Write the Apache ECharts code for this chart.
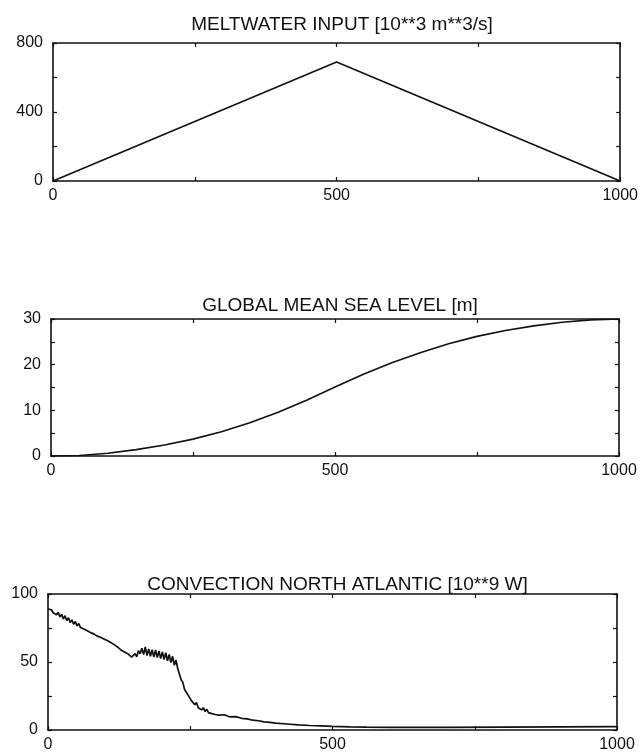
<!DOCTYPE html>
<html>
<head>
<meta charset="utf-8">
<title>Meltwater experiment</title>
<script src="https://cdn.jsdelivr.net/npm/echarts@6/dist/echarts.min.js"></script>
<style>
  html, body { margin: 0; padding: 0; background: #fff; }
  #main { width: 641px; height: 753px; }
</style>
</head>
<body>
<div id="main"></div>
<script>
// panel titles
var titles = [
    'MELTWATER INPUT [10**3 m**3/s]',
    'GLOBAL MEAN SEA LEVEL [m]',
    'CONVECTION NORTH ATLANTIC [10**9 W]'
];

// meltwater input (triangle)
var meltYears = [0, 500, 1000];
var meltValues = [0, 690, 0];

// global mean sea level
var seaYears = [0, 50, 100, 150, 200, 250, 300, 350, 400, 450, 500,
    550, 600, 650, 700, 750, 800, 850, 900, 950, 1000];
var seaValues = [0, 0.1, 0.6, 1.4, 2.4, 3.7, 5.3, 7.3, 9.6, 12.2, 15.1,
    17.9, 20.4, 22.6, 24.6, 26.2, 27.5, 28.5, 29.3, 29.8, 30];

// convection north atlantic (noisy record)
var convYears = [
    0, 3, 6, 9, 12, 15, 18, 21, 24, 27, 30, 33, 36, 39, 42, 45, 48, 51, 54, 57,
    60, 63, 66, 69, 72, 75, 78, 81, 84, 87, 90, 93, 96, 99, 102, 105, 108, 111, 114, 117,
    120, 123, 126, 129, 132, 135, 138, 141, 144, 147, 150, 153, 156, 159, 162, 165, 168, 171, 174, 177,
    180, 183, 186, 189, 192, 195, 198, 201, 204, 207, 210, 213, 216, 219, 222, 225, 228, 231, 234, 237,
    240, 243, 246, 249, 252, 255, 258, 261, 264, 267, 270, 273, 276, 279, 282, 285, 288, 291, 294, 297,
    300, 310, 320, 330, 340, 350, 360, 370, 380, 390, 400, 420, 440, 460, 480, 500,
    530, 560, 600, 700, 800, 900, 1000
];
var convValues = [
    89.0, 87.6, 88.4, 86.2, 87.3, 84.8, 86.5, 83.2, 85.0, 81.6, 84.0, 80.4, 82.5, 79.0, 81.0, 77.8, 79.8, 76.6, 78.2, 75.4,
    76.8, 74.2, 75.6, 73.0, 74.4, 71.6, 73.0, 70.5, 71.0, 69.0, 69.6, 68.0, 68.4, 66.8, 67.2, 65.6, 66.0, 64.2, 64.8, 62.6,
    63.0, 60.8, 61.4, 58.6, 59.8, 57.2, 57.6, 55.8, 56.0, 53.6, 53.0, 56.2, 53.8, 58.4, 56.0, 60.2, 55.4, 61.0, 54.8, 59.6,
    54.2, 59.0, 53.6, 58.8, 53.2, 58.2, 52.6, 57.4, 51.8, 56.8, 50.8, 55.6, 49.6, 54.2, 47.6, 51.4, 45.0, 44.2, 37.0, 35.0,
    29.8, 31.2, 25.8, 27.0, 21.6, 22.4, 18.6, 20.2, 16.4, 17.8, 14.8, 16.4, 13.6, 15.2, 12.8, 14.0, 12.0, 13.2, 11.4, 12.2,
    11.0, 11.2, 9.6, 9.8, 8.6, 8.2, 7.2, 6.8, 6.0, 5.6, 5.0, 4.4, 3.8, 3.3, 3.0, 2.7,
    2.3, 2.1, 2.0, 2.0, 2.1, 2.3, 2.5
];

// y axis ranges and label steps for each panel
var yMax = [800, 30, 100];
var yTick = [200, 5, 25];
var yLabelStep = [400, 10, 50];
var xTickLabels = [0, 500, 1000];

function pairs(xs, ys) {
    var out = [];
    for (var i = 0; i < xs.length; i++) {
        out.push([xs[i], ys[i]]);
    }
    return out;
}

var chart = echarts.init(document.getElementById('main'));

var ink = '#111';
var font = 'Liberation Sans, Arial, Helvetica, sans-serif';

var boxes = [
    { left: 53, right: 20, top: 43, height: 138, titleTop: 10 },
    { left: 51, right: 22, top: 319, height: 137, titleTop: 291 },
    { left: 48, right: 24, top: 594, height: 137, titleTop: 570 }
];

var grids = [], xAxes = [], yAxes = [], titleList = [];
boxes.forEach(function (b, i) {
    grids.push({ left: b.left, right: b.right, top: b.top, height: b.height });
    var cx = b.left + (641 - b.left - b.right) / 2;
    titleList.push({
        text: titles[i],
        left: cx,
        top: b.titleTop,
        textAlign: 'center',
        textStyle: { fontFamily: font, fontSize: 19, fontWeight: 'normal', color: ink }
    });
    var lineStyle = { color: ink, width: 1.6 };
    var tick = { inside: true, length: 4, lineStyle: { color: ink, width: 1.2 } };
    // bottom x axis with labels
    xAxes.push({
        gridIndex: i, type: 'value', min: 0, max: 1000, interval: 250,
        position: 'bottom',
        axisLine: { onZero: false, lineStyle: lineStyle },
        axisTick: tick,
        axisLabel: {
            margin: 7, color: ink, fontFamily: font, fontSize: 16,
            formatter: function (v) { return xTickLabels.indexOf(v) >= 0 ? String(v) : ''; }
        },
        splitLine: { show: false }
    });
    // top frame
    xAxes.push({
        gridIndex: i, type: 'value', min: 0, max: 1000, interval: 250,
        position: 'top',
        axisLine: { onZero: false, lineStyle: lineStyle },
        axisTick: tick,
        axisLabel: { show: false },
        splitLine: { show: false }
    });
    // left y axis with labels
    yAxes.push({
        gridIndex: i, type: 'value', min: 0, max: yMax[i], interval: yTick[i],
        position: 'left',
        axisLine: { show: true, onZero: false, lineStyle: lineStyle },
        axisTick: { show: true, inside: true, length: 4, lineStyle: { color: ink, width: 1.2 } },
        axisLabel: {
            margin: 10, color: ink, fontFamily: font, fontSize: 16,
            formatter: (function (step) {
                return function (v) { return v % step === 0 ? String(v) : ''; };
            })(yLabelStep[i])
        },
        splitLine: { show: false }
    });
    // right frame
    yAxes.push({
        gridIndex: i, type: 'value', min: 0, max: yMax[i], interval: yTick[i],
        position: 'right',
        axisLine: { show: true, onZero: false, lineStyle: lineStyle },
        axisTick: { show: true, inside: true, length: 4, lineStyle: { color: ink, width: 1.2 } },
        axisLabel: { show: false },
        splitLine: { show: false }
    });
});

var lineSeries = function (idx, data, width) {
    return {
        type: 'line',
        xAxisIndex: idx * 2,
        yAxisIndex: idx * 2,
        data: data,
        showSymbol: false,
        smooth: false,
        lineStyle: { color: ink, width: width },
        z: 3
    };
};

var option = {
    animation: false,
    backgroundColor: '#fff',
    title: titleList,
    grid: grids,
    xAxis: xAxes,
    yAxis: yAxes,
    series: [
        lineSeries(0, pairs(meltYears, meltValues), 1.6),
        lineSeries(1, pairs(seaYears, seaValues), 1.6),
        lineSeries(2, pairs(convYears, convValues), 1.7)
    ]
};

chart.setOption(option);
</script>
</body>
</html>
